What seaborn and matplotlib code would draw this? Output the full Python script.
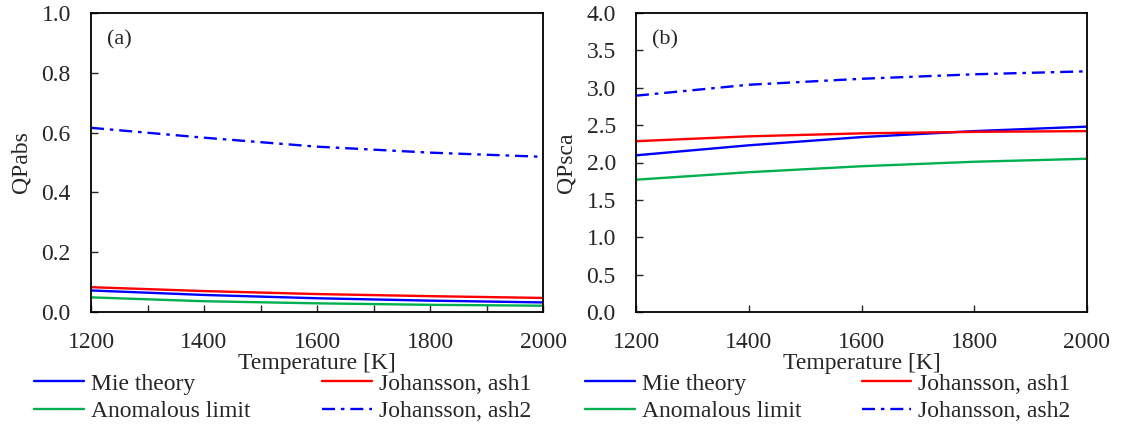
import numpy as np
import pandas as pd
import matplotlib
matplotlib.use("Agg")
import matplotlib.pyplot as plt
import seaborn as sns

temps = [1200, 1400, 1600, 1800, 2000]

# (a) absorption efficiency
qabs_mie = [0.072, 0.057, 0.046, 0.038, 0.032]
qabs_ash1 = [0.083, 0.070, 0.060, 0.053, 0.047]
qabs_anom = [0.049, 0.036, 0.029, 0.024, 0.021]
qabs_ash2 = [0.616, 0.583, 0.553, 0.533, 0.519]

# (b) scattering efficiency
qsca_mie = [2.096, 2.23, 2.34, 2.42, 2.48]
qsca_ash1 = [2.285, 2.35, 2.39, 2.41, 2.42]
qsca_anom = [1.77, 1.87, 1.95, 2.01, 2.05]
qsca_ash2 = [2.894, 3.04, 3.12, 3.18, 3.22]

labels = ["Mie theory", "Johansson, ash1", "Anomalous limit", "Johansson, ash2"]
colors = {"Mie theory": "#0000FF", "Johansson, ash1": "#FF0000",
          "Anomalous limit": "#00B050", "Johansson, ash2": "#0000FF"}
styles = {"Mie theory": "-", "Johansson, ash1": "-",
          "Anomalous limit": "-", "Johansson, ash2": (0, (5.5, 2.5, 1.5, 2.5))}

sns.set_style("ticks")
plt.rcParams["font.family"] = ["Liberation Serif", "DejaVu Serif"]

FS = 17
fig = plt.figure(figsize=(11.33, 4.29), dpi=100)
axL = fig.add_axes([91/1133, 1-312/429, 452/1133, 299/429])
axR = fig.add_axes([636/1133, 1-312/429, 451/1133, 299/429])

def draw(ax, series, ylim, yticks, ylabel, tag, minor_x, legx, colsp):
    for lab, vals in zip(labels, series):
        df = pd.DataFrame({"T": temps, "Q": vals})
        sns.lineplot(data=df, x="T", y="Q", ax=ax, color=colors[lab],
                     linestyle=styles[lab], linewidth=1.7, label=lab, legend=False)
    ax.set_xlim(1200, 2000)
    ax.set_ylim(*ylim)
    ax.set_xticks([1200, 1400, 1600, 1800, 2000])
    if minor_x:
        ax.set_xticks([1300, 1500, 1700, 1900], minor=True)
    ax.set_yticks(yticks)
    ax.set_yticklabels([f"{v:.1f}" for v in yticks])
    ax.tick_params(axis="x", direction="in", length=5, width=1, labelsize=FS, pad=14.5, top=False)
    ax.tick_params(axis="x", which="minor", direction="in", length=5, width=1)
    ax.tick_params(axis="y", direction="in", length=5, width=1, labelsize=FS, pad=14.5, right=False)
    for s in ax.spines.values():
        s.set_linewidth(1.3)
        s.set_color("black")
    ax.set_xlabel("Temperature [K]", fontsize=FS, labelpad=0)
    ax.set_ylabel(ylabel, fontsize=FS, labelpad=7)
    ax.text(0.035, 0.91, tag, transform=ax.transAxes, fontsize=FS - 1, va="center", ha="left")
    handles = {l.get_label(): l for l in ax.get_lines()}
    order = ["Mie theory", "Anomalous limit", "Johansson, ash1", "Johansson, ash2"]
    fig.legend([handles[o] for o in order], order, loc="upper left",
               bbox_to_anchor=(legx, 1-373/429), ncol=2, frameon=False,
               fontsize=FS, handlelength=2.1, handletextpad=0.3,
               columnspacing=colsp, labelspacing=0.27, borderpad=0, borderaxespad=0)

draw(axL, [qabs_mie, qabs_ash1, qabs_anom, qabs_ash2], (0, 1.0),
     [0.0, 0.2, 0.4, 0.6, 0.8, 1.0], "QPabs", "(a)", True, 34/1133, 3.05)
draw(axR, [qsca_mie, qsca_ash1, qsca_anom, qsca_ash2], (0, 4.0),
     [0.0, 0.5, 1.0, 1.5, 2.0, 2.5, 3.0, 3.5, 4.0], "QPsca", "(b)", False, 585/1133, 2.56)

fig.savefig("out.png", dpi=100)
